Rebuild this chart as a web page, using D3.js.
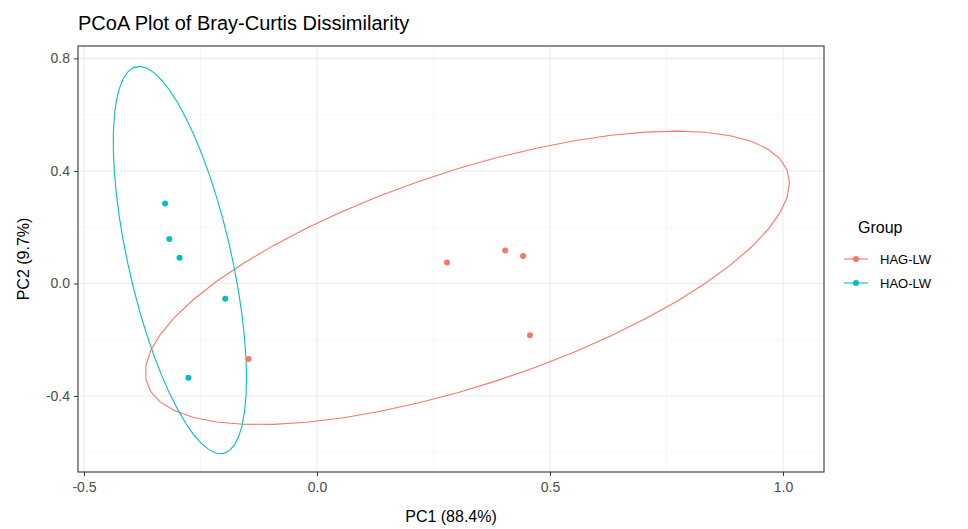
<html>
<head>
<meta charset="utf-8">
<script src="https://d3js.org/d3.v7.min.js"></script>
<style>
    body { margin: 0; background: #fff; }
    text { font-family: "Liberation Sans", Arial, sans-serif; }
    .axis text { font-size: 14px; fill: #4d4d4d; }
    .axis path { display: none; }
    .axis line { stroke: #333; }
</style>
</head>
<body>
<div id="chart"></div>
<script>
    // Data
    const groups = ['HAG-LW', 'HAO-LW'];
    const colors = ['#F8766D', '#00BFC4'];
    const hagPC1 = [0.279, 0.404, 0.442, 0.457, -0.147];
    const hagPC2 = [0.075, 0.117, 0.098, -0.184, -0.268];
    const haoPC1 = [-0.326, -0.317, -0.295, -0.197, -0.276];
    const haoPC2 = [0.284, 0.158, 0.091, -0.054, -0.335];
    const xTicks = [-0.5, 0.0, 0.5, 1.0];
    const yTicks = [-0.4, 0.0, 0.4, 0.8];
    const xMinor = [-0.25, 0.25, 0.75];
    const yMinor = [-0.6, -0.2, 0.2, 0.6];

    const width = 968, height = 529;
    const panel = { left: 78, right: 824, top: 46, bottom: 472 };

    const x = d3.scaleLinear().domain([-0.5129, 1.088]).range([panel.left, panel.right]);
    const y = d3.scaleLinear().domain([-0.670, 0.844]).range([panel.bottom, panel.top]);

    const svg = d3.select('#chart').append('svg')
        .attr('width', width)
        .attr('height', height);

    // grid
    const grid = svg.append('g');
    grid.selectAll('.vmin').data(xMinor).enter().append('line')
        .attr('x1', d => x(d)).attr('x2', d => x(d))
        .attr('y1', panel.top).attr('y2', panel.bottom)
        .attr('stroke', '#f2f2f2').attr('stroke-width', 0.6);
    grid.selectAll('.hmin').data(yMinor).enter().append('line')
        .attr('y1', d => y(d)).attr('y2', d => y(d))
        .attr('x1', panel.left).attr('x2', panel.right)
        .attr('stroke', '#f2f2f2').attr('stroke-width', 0.6);
    grid.selectAll('.vmaj').data(xTicks).enter().append('line')
        .attr('x1', d => x(d)).attr('x2', d => x(d))
        .attr('y1', panel.top).attr('y2', panel.bottom)
        .attr('stroke', '#ebebeb').attr('stroke-width', 1.1);
    grid.selectAll('.hmaj').data(yTicks).enter().append('line')
        .attr('y1', d => y(d)).attr('y2', d => y(d))
        .attr('x1', panel.left).attr('x2', panel.right)
        .attr('stroke', '#ebebeb').attr('stroke-width', 1.1);

    // stat_ellipse (type "t"): robust covariance like MASS::cov.trob
    function covTrob(px, py, nu = 5, maxit = 25, tol = 0.01) {
        const n = px.length, p = 2;
        let loc = [d3.mean(px), d3.mean(py)];
        let w = px.map(() => 1);
        let X;
        for (let iter = 0; iter < maxit; iter++) {
            const w0 = w.slice();
            X = px.map((v, i) => [v - loc[0], py[i] - loc[1]]);
            const sw = d3.sum(w);
            let a = 0, b = 0, c = 0;
            X.forEach((r, i) => { a += w[i] * r[0] * r[0]; b += w[i] * r[0] * r[1]; c += w[i] * r[1] * r[1]; });
            a /= sw; b /= sw; c /= sw;
            const det = a * c - b * b;
            const Q = X.map(r => (c * r[0] * r[0] - 2 * b * r[0] * r[1] + a * r[1] * r[1]) / det);
            w = Q.map(q => (nu + p) / (nu + q));
            const sw2 = d3.sum(w);
            loc = [d3.sum(px.map((v, i) => w[i] * v)) / sw2, d3.sum(py.map((v, i) => w[i] * v)) / sw2];
            if (w.every((v, i) => Math.abs(v - w0[i]) < tol)) break;
        }
        let a = 0, b = 0, c = 0;
        X.forEach((r, i) => { a += w[i] * r[0] * r[0]; b += w[i] * r[0] * r[1]; c += w[i] * r[1] * r[1]; });
        return { center: loc, cov: [a / n, b / n, c / n] };
    }

    function ellipsePoints(px, py, level = 0.95, segments = 51) {
        const v = covTrob(px, py);
        const dfd = px.length - 1;
        const q = dfd / 2 * (Math.pow(1 - level, -2 / dfd) - 1); // qf(level, 2, dfd)
        const radius = Math.sqrt(2 * q);
        const r11 = Math.sqrt(v.cov[0]);
        const r12 = v.cov[1] / r11;
        const r22 = Math.sqrt(v.cov[2] - r12 * r12);
        return d3.range(segments + 1).map(k => {
            const t = k * 2 * Math.PI / segments;
            const cs = Math.cos(t), sn = Math.sin(t);
            return [v.center[0] + radius * cs * r11, v.center[1] + radius * (cs * r12 + sn * r22)];
        });
    }

    const series = [
        { name: groups[0], color: colors[0], pc1: hagPC1, pc2: hagPC2 },
        { name: groups[1], color: colors[1], pc1: haoPC1, pc2: haoPC2 }
    ];

    const line = d3.line().x(d => x(d[0])).y(d => y(d[1]));

    series.forEach(s => {
        svg.append('path')
            .attr('d', line(ellipsePoints(s.pc1, s.pc2)))
            .attr('fill', 'none')
            .attr('stroke', s.color)
            .attr('stroke-width', 1.1);
    });
    series.forEach(s => {
        svg.selectAll(null).data(s.pc1).enter().append('circle')
            .attr('cx', d => x(d))
            .attr('cy', (d, i) => y(s.pc2[i]))
            .attr('r', 3)
            .attr('fill', s.color);
    });

    // panel border
    svg.append('rect')
        .attr('x', panel.left).attr('y', panel.top)
        .attr('width', panel.right - panel.left)
        .attr('height', panel.bottom - panel.top)
        .attr('fill', 'none').attr('stroke', '#333').attr('stroke-width', 1.1);

    // axes
    const fmt = d => d3.format('.1f')(d).replace('\u2212', '-');
    svg.append('g')
        .attr('class', 'axis')
        .attr('transform', `translate(0,${panel.bottom})`)
        .call(d3.axisBottom(x).tickValues(xTicks).tickFormat(fmt).tickSizeOuter(0).tickSize(4).tickPadding(6));
    svg.append('g')
        .attr('class', 'axis')
        .attr('transform', `translate(${panel.left},0)`)
        .call(d3.axisLeft(y).tickValues(yTicks).tickFormat(fmt).tickSizeOuter(0).tickSize(4).tickPadding(4));

    // titles
    svg.append('text')
        .attr('x', panel.left).attr('y', 30)
        .style('font-size', '20px').style('fill', '#000')
        .text('PCoA Plot of Bray-Curtis Dissimilarity');
    svg.append('text')
        .attr('x', (panel.left + panel.right) / 2).attr('y', 522)
        .style('text-anchor', 'middle')
        .style('font-size', '16px').style('fill', '#000')
        .text('PC1 (88.4%)');
    svg.append('text')
        .attr('transform', `translate(29,${(panel.top + panel.bottom) / 2}) rotate(-90)`)
        .style('text-anchor', 'middle')
        .style('font-size', '16px').style('fill', '#000')
        .text('PC2 (9.7%)');

    // legend
    const legend = svg.append('g').attr('transform', 'translate(842,0)');
    legend.append('text')
        .attr('x', 16).attr('y', 233)
        .style('font-size', '16px').style('fill', '#000')
        .text('Group');
    const keys = legend.selectAll('.key').data(series).enter().append('g')
        .attr('transform', (d, i) => `translate(0,${259 + i * 24})`);
    keys.append('line')
        .attr('x1', 2).attr('x2', 26)
        .attr('stroke', d => d.color).attr('stroke-width', 1.1);
    keys.append('circle')
        .attr('cx', 14).attr('r', 3)
        .attr('fill', d => d.color);
    keys.append('text')
        .attr('x', 38).attr('y', 4.5)
        .style('font-size', '13px').style('fill', '#000')
        .text(d => d.name);
</script>
</body>
</html>
